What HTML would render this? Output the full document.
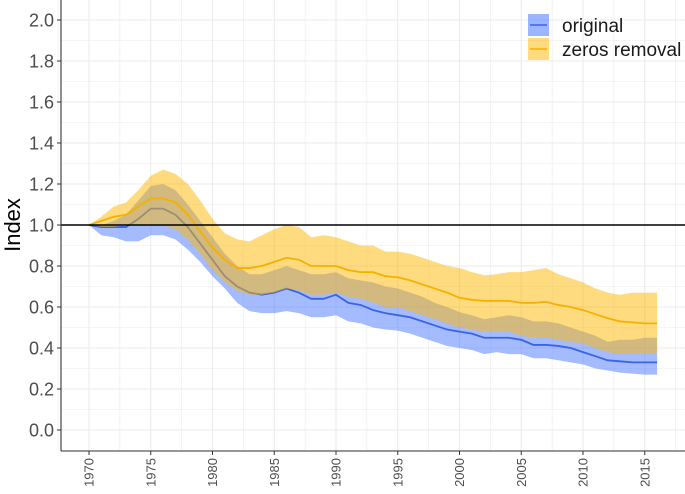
<!DOCTYPE html>
<html><head><meta charset="utf-8"><style>
body{margin:0;background:#fff;}
svg text{font-family:"Liberation Sans",sans-serif;}
</style></head><body>
<svg id="chart" width="685" height="489" viewBox="0 0 685 489">
<g id="grid"></g>
<g id="marks"></g>
<g id="axes"></g>
<text transform="translate(20,225) rotate(-90)" text-anchor="middle" font-size="22" fill="#000">Index</text>
<g>
<rect x="528" y="14" width="21" height="22" fill="#4a78ff" fill-opacity="0.55"/>
<line x1="530" y1="25" x2="547" y2="25" stroke="#3a63e8" stroke-width="1.5"/>
<text x="562" y="32" font-size="19" fill="#1a1a1a">original</text>
<rect x="528" y="38" width="21" height="22" fill="#ffb800" fill-opacity="0.5"/>
<line x1="530" y1="49" x2="547" y2="49" stroke="#f5b000" stroke-width="1.5"/>
<text x="562" y="56" font-size="19" fill="#1a1a1a">zeros removal</text>
</g>
</svg>
<script>
const years=[];for(let y=1970;y<=2016;y++)years.push(y);
const origLine=[1.0,0.99,0.99,0.99,1.03,1.08,1.08,1.05,0.99,0.91,0.83,0.75,0.70,0.67,0.66,0.67,0.69,0.67,0.64,0.64,0.66,0.62,0.61,0.585,0.57,0.56,0.55,0.53,0.51,0.49,0.48,0.47,0.45,0.45,0.45,0.44,0.415,0.415,0.41,0.40,0.38,0.36,0.34,0.335,0.33,0.33,0.33];
const origLow=[1.0,0.95,0.94,0.92,0.92,0.95,0.95,0.93,0.88,0.82,0.75,0.69,0.62,0.58,0.57,0.57,0.58,0.57,0.55,0.55,0.56,0.53,0.52,0.50,0.49,0.485,0.47,0.45,0.43,0.41,0.40,0.39,0.37,0.38,0.37,0.37,0.35,0.35,0.34,0.33,0.32,0.30,0.29,0.28,0.275,0.27,0.27];
const origHigh=[1.0,1.0,1.02,1.05,1.12,1.19,1.2,1.17,1.1,1.02,0.94,0.86,0.8,0.76,0.76,0.78,0.8,0.78,0.76,0.76,0.77,0.74,0.73,0.72,0.70,0.69,0.67,0.65,0.62,0.6,0.575,0.56,0.54,0.55,0.56,0.55,0.53,0.53,0.52,0.5,0.48,0.46,0.43,0.44,0.44,0.45,0.45];
const zeroLine=[1.0,1.02,1.04,1.05,1.09,1.13,1.13,1.11,1.05,0.97,0.89,0.83,0.79,0.79,0.8,0.82,0.84,0.83,0.8,0.8,0.8,0.78,0.77,0.77,0.75,0.745,0.73,0.71,0.69,0.67,0.645,0.635,0.63,0.63,0.63,0.62,0.62,0.625,0.61,0.6,0.585,0.565,0.545,0.53,0.525,0.52,0.52];
const zeroLow=[1.0,0.99,0.99,1.0,1.0,1.0,1.0,0.98,0.93,0.86,0.78,0.72,0.68,0.66,0.66,0.67,0.69,0.68,0.66,0.66,0.67,0.65,0.64,0.62,0.6,0.6,0.58,0.56,0.54,0.52,0.50,0.49,0.48,0.48,0.48,0.46,0.45,0.45,0.44,0.43,0.42,0.4,0.38,0.37,0.37,0.375,0.375];
const zeroHigh=[1.0,1.04,1.09,1.11,1.17,1.24,1.27,1.25,1.2,1.12,1.03,0.96,0.93,0.92,0.95,0.98,1.0,0.99,0.94,0.95,0.94,0.92,0.9,0.9,0.87,0.87,0.86,0.84,0.82,0.8,0.79,0.77,0.755,0.76,0.77,0.77,0.78,0.79,0.76,0.74,0.72,0.69,0.67,0.66,0.67,0.67,0.67];
const yTicks=[0,0.2,0.4,0.6,0.8,1.0,1.2,1.4,1.6,1.8,2.0];
const xTicks=[1970,1975,1980,1985,1990,1995,2000,2005,2010,2015];

const L=61,R=685,T=0,B=451;
const X=y=>89+(y-1970)*12.35;
const Y=v=>430-v*205;
const NS='http://www.w3.org/2000/svg';
function mk(tag,parent,attrs){const e=document.createElementNS(NS,tag);for(const k in attrs)e.setAttribute(k,attrs[k]);parent.appendChild(e);return e;}
const grid=document.getElementById('grid'),marks=document.getElementById('marks'),axes=document.getElementById('axes');
for(let v=-0.1;v<=2.11;v+=0.1){const minor=Math.round(v*10)%2!==0;const l=mk('line',grid,{x1:L,x2:R,y1:Y(v),y2:Y(v),stroke:'#ebebeb','stroke-width':minor?0.6:1.1});

}
for(let y=1967.5;y<=2018;y+=2.5){const minor=(y%5)!==0;const l=mk('line',grid,{x1:X(y),x2:X(y),y1:T,y2:B,stroke:'#ebebeb','stroke-width':minor?0.6:1.1});

}
function band(lo,hi,fill,op,name){let d='';years.forEach((y,i)=>{d+=(i?'L':'M')+X(y)+','+Y(hi[i]);});for(let i=years.length-1;i>=0;i--)d+='L'+X(years[i])+','+Y(lo[i]);d+='Z';
const p=mk('path',marks,{d:d,fill:fill,'fill-opacity':op});

}
function line(vals,col,name){const pts=years.map((y,i)=>X(y)+','+Y(vals[i])).join(' ');
const p=mk('polyline',marks,{points:pts,fill:'none',stroke:col,'stroke-width':1.8});

}
band(origLow,origHigh,'#4a78ff',0.5,'original-band');
line(origLine,'#3a63e8','original-line');
band(zeroLow,zeroHigh,'#ffb800',0.5,'zeros-removal-band');
line(zeroLine,'#f5b000','zeros-removal-line');
const ref=mk('line',marks,{x1:L,x2:R,y1:Y(1),y2:Y(1),stroke:'#000','stroke-width':1.6});


mk('line',axes,{x1:L,x2:L,y1:T,y2:B,stroke:'#333','stroke-width':1.1});
mk('line',axes,{x1:L,x2:R,y1:B,y2:B,stroke:'#333','stroke-width':1.1});
yTicks.forEach(v=>{mk('line',axes,{x1:L-4,x2:L,y1:Y(v),y2:Y(v),stroke:'#333'});
const t=mk('text',axes,{x:L-7,y:Y(v)+6.5,'text-anchor':'end','font-size':18,fill:'#4d4d4d'});t.textContent=v.toFixed(1);

});
xTicks.forEach(y=>{mk('line',axes,{x1:X(y),x2:X(y),y1:B,y2:B+4,stroke:'#333'});
const t=mk('text',axes,{transform:'translate('+(X(y)+4.5)+','+(B+7)+') rotate(-90)','text-anchor':'end','font-size':13,fill:'#4d4d4d'});t.textContent=y;

});
</script>
</body></html>
